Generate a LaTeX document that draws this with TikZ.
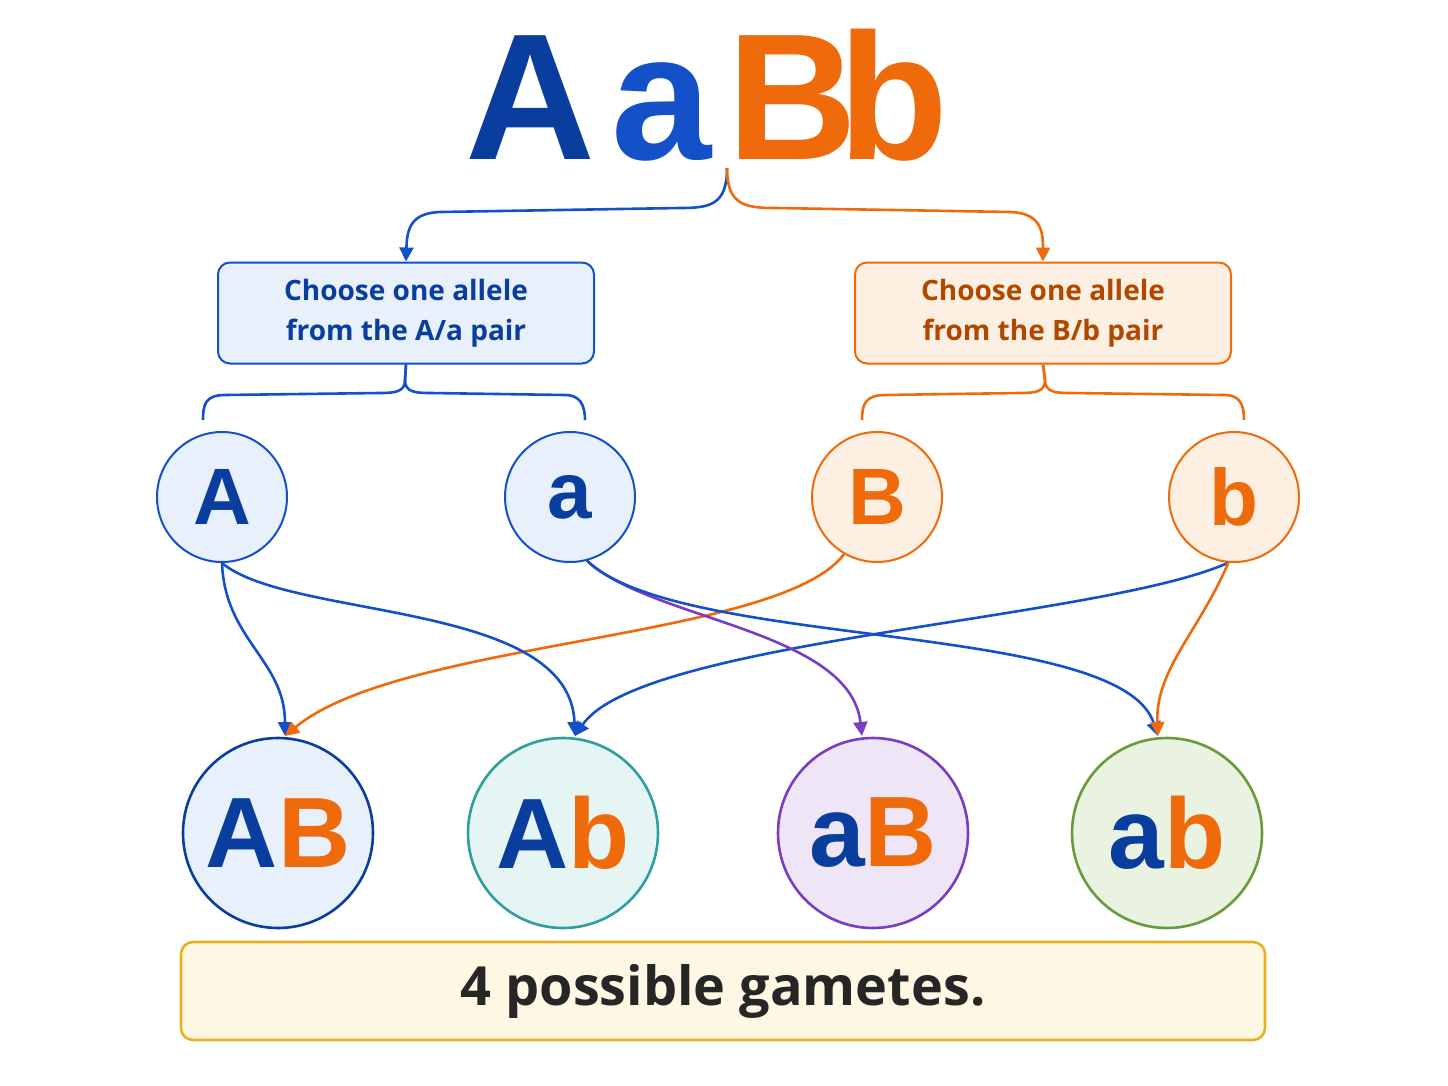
\documentclass[tikz,border=0pt]{standalone}
\usepackage{fontspec}
\setmainfont{Open Sans}
\newfontfamily\arialb{Liberation Sans}[BoldFont={Liberation Sans Bold}]
\usetikzlibrary{arrows.meta}
\definecolor{cb}{HTML}{1450C8}
\definecolor{cbd}{HTML}{0A3E9E}
\definecolor{co}{HTML}{EE6A0A}
\definecolor{cod}{HTML}{B04800}
\definecolor{cbf}{HTML}{E8F0FB}
\definecolor{cof}{HTML}{FDF0E3}
\definecolor{ct}{HTML}{2E9E9E}\definecolor{ctf}{HTML}{E5F5F3}
\definecolor{cp}{HTML}{7A3CC0}\definecolor{cpf}{HTML}{EEE6F7}
\definecolor{cg}{HTML}{6A9A3A}\definecolor{cgf}{HTML}{EAF3E2}
\definecolor{cy}{HTML}{E8B020}\definecolor{cyf}{HTML}{FDF7E3}
\begin{document}
\begin{tikzpicture}[x=1pt,y=-1pt,
 conn/.style={line width=2.6pt,-{Triangle[length=14pt,width=14pt]}},
 br/.style={line width=2.6pt},
 box/.style={draw,line width=2pt,rounded corners=12pt,minimum width=376pt,minimum height=101pt,align=center,font=\fontsize{28}{40}\selectfont\bfseries},
 sm/.style={circle,draw,line width=2pt,minimum size=130pt,inner sep=0pt,font=\arialb\fontsize{80}{80}\selectfont\bfseries},
 bg/.style={circle,draw,line width=2.6pt,minimum size=190pt,inner sep=0pt,font=\arialb\fontsize{100}{100}\selectfont\bfseries},
 ttl/.style={font=\arialb\fontsize{180}{180}\selectfont\bfseries,inner sep=0pt,anchor=base}]
\useasboundingbox (0,0) rectangle (1448,1086);
\node[ttl,text=cbd] (t1) at (530,160) {A};
\node[ttl,text=cb] (t2) at (662,160) {a};
\node[ttl,text=co] (t3) at (792,160) {B};
\node[ttl,text=co] (t4) at (893,160) {b};
\coordinate (top) at (727,168);
\node[box,draw=cb,fill=cbf,text=cbd] (bA) at (406,313) {Choose one allele\\from the A/a pair};
\node[box,draw=co,fill=cof,text=cod] (bB) at (1043,313) {Choose one allele\\from the B/b pair};
\draw[conn,cb] (top) .. controls (727,205) and (710,208) .. (680,208) -- (440,212) .. controls (410,213) and (407,230) .. (bA.north);
\draw[conn,co] (top) .. controls (727,205) and (745,208) .. (775,208) -- (1010,212) .. controls (1040,213) and (1043,230) .. (bB.north);
\node[sm,draw=cb,fill=cbf,text=cbd] (A) at (222,497) {A};
\node[sm,draw=cb,fill=cbf,text=cbd] (a) at (570,497) {a};
\node[sm,draw=co,fill=cof,text=co] (B) at (877,497) {B};
\node[sm,draw=co,fill=cof,text=co] (b) at (1234,497) {b};
\draw[br,cb] (bA.south) -- (405,380) .. controls (405,392) and (395,393) .. (380,393) -- (225,395) .. controls (205,395) and (203,405) .. (203,420);
\draw[br,cb] (bA.south) -- (405,380) .. controls (405,392) and (415,393) .. (430,393) -- (565,395) .. controls (580,395) and (585,405) .. (585,420);
\draw[br,co] (bB.south) -- (1045,380) .. controls (1045,392) and (1035,393) .. (1020,393) -- (885,395) .. controls (865,395) and (862,405) .. (862,420);
\draw[br,co] (bB.south) -- (1045,380) .. controls (1045,392) and (1055,393) .. (1070,393) -- (1225,395) .. controls (1240,395) and (1244,405) .. (1244,420);
\node[bg,draw=cbd,fill=cbf] (AB) at (278,833) {\textcolor{cbd}{A}\textcolor{co}{B}};
\node[bg,draw=ct,fill=ctf] (Ab) at (563,833) {\textcolor{cbd}{A}\textcolor{co}{b}};
\node[bg,draw=cp,fill=cpf] (aB) at (873,833) {\textcolor{cbd}{a}\textcolor{co}{B}};
\node[bg,draw=cg,fill=cgf] (ab) at (1167,833) {\textcolor{cbd}{a}\textcolor{co}{b}};
\draw[conn,cb] (A.south) .. controls (225,640) and (285,660) .. (285,736);
\draw[conn,co] (B.-120) .. controls (780,640) and (400,640) .. (285,736);
\draw[conn,cb] (A.south) .. controls (290,620) and (570,600) .. (575,736);
\draw[conn,cb] (b.-95) .. controls (1100,620) and (640,640) .. (575,736);
\draw[conn,cp] (a.-75) .. controls (650,620) and (850,630) .. (862,736);
\draw[conn,cb] (a.-75) .. controls (680,650) and (1120,620) .. (1158,736);
\draw[conn,co] (b.-95) .. controls (1200,630) and (1155,670) .. (1158,736);
\node[draw=cy,fill=cyf,line width=2.6pt,rounded corners=12pt,minimum width=1084pt,minimum height=98pt,font=\fontsize{54}{60}\selectfont\bfseries,text=black!85] (g) at (723,991) {4 possible gametes.};
\end{tikzpicture}
\end{document}
